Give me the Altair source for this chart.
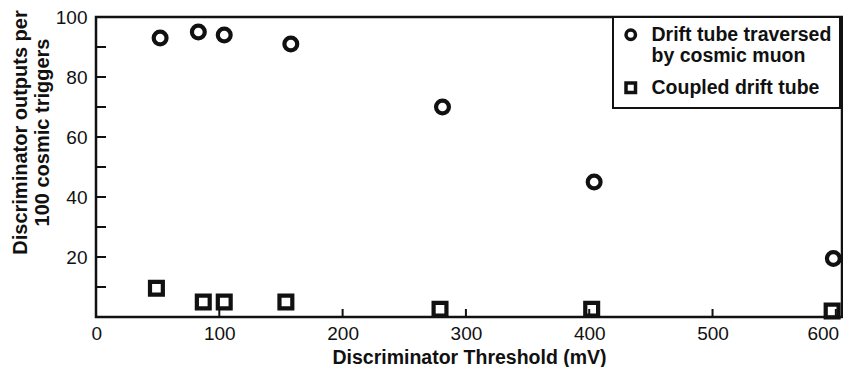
import altair as alt
import pandas as pd

# Data
muon_x = [52, 83, 104, 158, 281, 404, 598]
muon_y = [93, 95, 94, 91, 70, 45, 19.5]
coupled_x = [49, 87, 104, 154, 279, 402, 597]
coupled_y = [9.6, 5, 5, 5, 2.6, 2.6, 2]

series_names = ["Drift tube traversed|by cosmic muon", "Coupled drift tube"]
x_label_values = [0, 100, 200, 300, 400, 500, 600]
x_tick_values = [100, 200, 300, 400, 500, 600]
y_label_values = [20, 40, 60, 80, 100]
y_tick_values = [10, 20, 30, 40, 50, 60, 70, 80, 90]

df = pd.DataFrame(
    {
        "x": muon_x + coupled_x,
        "y": muon_y + coupled_y,
        "series": [series_names[0]] * len(muon_x) + [series_names[1]] * len(coupled_x),
    }
)
xt = pd.DataFrame({"t": x_tick_values})
yt = pd.DataFrame({"t": y_tick_values})

W, H = 746, 300
FONT = "Liberation Sans"

xscale = alt.Scale(domain=[0, 605], nice=False, zero=False)
yscale = alt.Scale(domain=[0, 100], nice=False)

points = (
    alt.Chart(df)
    .mark_point(filled=False, strokeWidth=4.2, color="#111", opacity=1)
    .encode(
        x=alt.X(
            "x:Q",
            scale=xscale,
            axis=alt.Axis(
                values=x_label_values,
                ticks=False,
                grid=False,
                domain=False,
                labelFontSize=19,
                labelColor="#111",
                labelPadding=7,
                labelOffset=alt.ExprRef(
                    expr="datum.value == 600 ? -13 : (datum.value == 0 ? -5 : 0)"
                ),
                title="Discriminator Threshold (mV)",
                titleFontSize=19.5,
                titleFontWeight="bold",
                titleColor="#111",
                titlePadding=5,
            ),
        ),
        y=alt.Y(
            "y:Q",
            scale=yscale,
            axis=alt.Axis(
                values=y_label_values,
                ticks=False,
                grid=False,
                domain=False,
                labelFontSize=19,
                labelColor="#111",
                labelPadding=9,
                title=["Discriminator outputs per", "100 cosmic triggers"],
                titleFontSize=20,
                titleFontWeight="bold",
                titleColor="#111",
                titleLineHeight=22,
                titleBaseline="top",
                titleAlign="center",
                titleAngle=270,
                titleX=-86,
                titleY=115,
            ),
        ),
        shape=alt.Shape(
            "series:N",
            scale=alt.Scale(domain=series_names, range=["circle", "square"]),
            legend=alt.Legend(
                title=None,
                orient="none",
                legendX=517,
                legendY=0,
                labelExpr="split(datum.label, '|')",
                labelFontSize=19.5,
                labelFontWeight="bold",
                labelColor="#111",
                labelLimit=400,
                symbolSize=90,
                symbolStrokeWidth=3.5,
                symbolStrokeColor="#111",
                strokeColor="#111",
                fillColor="white",
                padding=8,
                rowPadding=10,
                labelOffset=11,
            ),
        ),
        size=alt.value(165),
    )
)

ytick_rules = (
    alt.Chart(yt)
    .mark_rule(color="#111", strokeWidth=2)
    .encode(y=alt.Y("t:Q", scale=yscale), x=alt.value(0), x2=alt.value(10))
)
xtick_rules = (
    alt.Chart(xt)
    .mark_rule(color="#111", strokeWidth=2)
    .encode(x=alt.X("t:Q", scale=xscale), y=alt.value(H), y2=alt.value(H - 8))
)

chart = (
    alt.layer(ytick_rules, xtick_rules, points)
    .properties(
        width=W,
        height=H,
        autosize=alt.AutoSizeParams(type="none"),
        padding={"left": 88, "top": 9, "right": 1, "bottom": 50},
        background="white",
    )
    .configure(font=FONT)
    .configure_view(stroke="#111", strokeWidth=2.5)
    .configure_legend(strokeWidth=2)
)

chart.save("out.html", embed_options={"renderer": "svg", "actions": False})
